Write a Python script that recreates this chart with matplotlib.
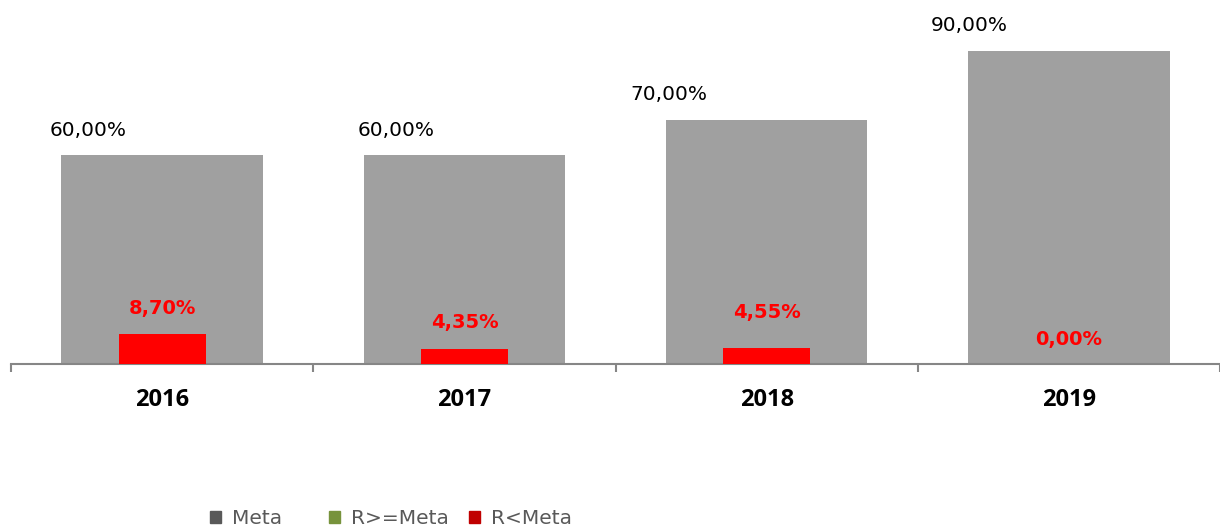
import matplotlib
matplotlib.use("Agg")
import matplotlib.pyplot as plt
from matplotlib.patches import Patch

# ---- data ----
categories = ["2016", "2017", "2018", "2019"]
meta = [60.00, 60.00, 70.00, 90.00]
r_ge_meta = [0.0, 0.0, 0.0, 0.0]
r_lt_meta = [8.70, 4.35, 4.55, 0.00]
legend_labels = ["Meta", "R>=Meta", "R<Meta"]

# ---- style ----
GRAY = "#A0A0A0"
GREEN = "#77933C"
RED = "#FF0000"
LEG_GRAY = "#595959"
LEG_RED = "#C00000"
AXIS = "#868686"

W, H = 1220, 531
DPI = 100
fig = plt.figure(figsize=(W / DPI, H / DPI), dpi=DPI)
ax = fig.add_axes([11 / W, (H - 364) / H, (W - 11) / W, 364 / H])

x = list(range(len(categories)))
ax.bar(x, meta, width=0.666, color=GRAY, zorder=1)
ax.bar(x, r_ge_meta, width=0.288, color=GREEN, zorder=2)
ax.bar(x, r_lt_meta, width=0.288, color=RED, zorder=3)

ax.set_xlim(-0.5, len(categories) - 0.5)
ax.set_ylim(0, 104.5)

for s in ["top", "right", "left"]:
    ax.spines[s].set_visible(False)
ax.spines["bottom"].set_color(AXIS)
ax.spines["bottom"].set_linewidth(1.5)
ax.set_yticks([])
ax.set_xticks([i - 0.5 for i in range(len(categories) + 1)])
ax.set_xticklabels([])
ax.tick_params(axis="x", length=8 * 0.72, width=1.5, color=AXIS, direction="out")

for i, c in enumerate(categories):
    ax.annotate(c, (i, 0), xytext=(0, -36 * 0.72), textcoords="offset points",
                ha="center", va="center", fontsize=17, fontweight="bold",
                family="Open Sans", color="black")

# value label offsets (pixels)
meta_dx = [-74, -68, -98, -100]
meta_dy = [25, 25, 26, 25]
red_dy = [25, 26, 36, 25]

def fmt(v):
    return f"{v:.2f}".replace(".", ",") + "%"

for i, v in enumerate(meta):
    ax.annotate(fmt(v), (i, v), xytext=(meta_dx[i] * 0.72, meta_dy[i] * 0.72),
                textcoords="offset points", ha="center", va="center",
                fontsize=14.5, family="DejaVu Sans", color="black")

for i, v in enumerate(r_lt_meta):
    ax.annotate(fmt(v), (i, v), xytext=(0, red_dy[i] * 0.72),
                textcoords="offset points", ha="center", va="center",
                fontsize=14, fontweight="bold", family="DejaVu Sans", color=RED)

handle_colors = [LEG_GRAY, GREEN, LEG_RED]
legend_x = [210, 329, 469]
for lbl, col, lx in zip(legend_labels, handle_colors, legend_x):
    leg = fig.legend([Patch(color=col)], [lbl], loc="center left",
                     bbox_to_anchor=(lx / W, 1 - 519 / H), frameon=False,
                     handlelength=0.55, handleheight=0.55, handletextpad=0.55,
                     prop={"family": "DejaVu Sans", "size": 14.5},
                     borderaxespad=0, borderpad=0)
    for t in leg.get_texts():
        t.set_color(LEG_GRAY)

fig.savefig("out.png", dpi=DPI)
